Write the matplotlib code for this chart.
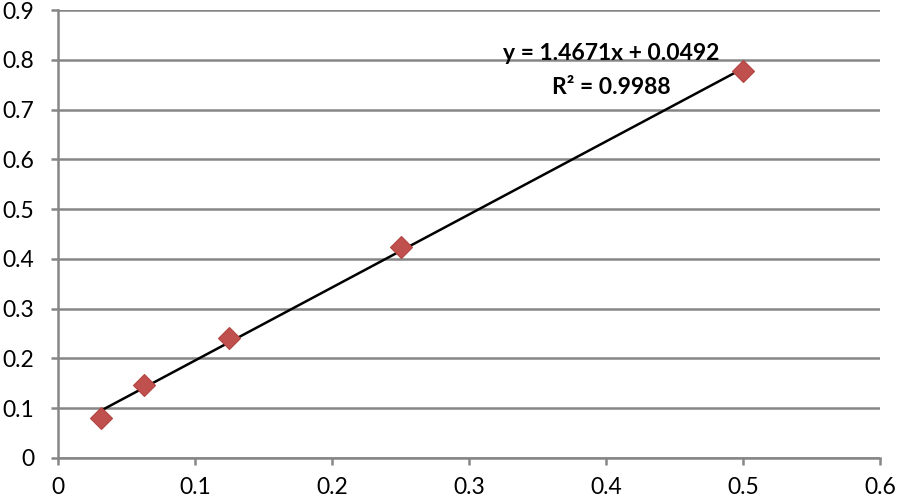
import numpy as np
import matplotlib.pyplot as plt

# données
concentration = [0.03125, 0.0625, 0.125, 0.25, 0.5]
absorbance = [0.080, 0.147, 0.241, 0.424, 0.777]

pente = 1.4671
ordonnee = 0.0492
equation = "y = 1.4671x + 0.0492"
r2 = "R² = 0.9988"

x_ticks = [0, 0.1, 0.2, 0.3, 0.4, 0.5, 0.6]
y_ticks = [0, 0.1, 0.2, 0.3, 0.4, 0.5, 0.6, 0.7, 0.8, 0.9]

plt.rcParams['font.family'] = ['Lato', 'DejaVu Sans']
gris = '#868686'

fig = plt.figure(figsize=(9.04, 5.04), dpi=100)
ax = fig.add_axes([0.0642, 0.0913, 0.9093, 0.8887])

ax.set_xlim(0, 0.6)
ax.set_ylim(0, 0.9)
ax.set_xticks(x_ticks)
ax.set_yticks(y_ticks)
ax.set_xticklabels([f"{v:g}" for v in x_ticks])
ax.set_yticklabels([f"{v:g}" for v in y_ticks])

ax.grid(axis='y', color=gris, linewidth=1.8)
ax.set_axisbelow(True)
for cote in ['top', 'right']:
    ax.spines[cote].set_visible(False)
for cote in ['left', 'bottom']:
    ax.spines[cote].set_color(gris)
    ax.spines[cote].set_linewidth(1.8)
ax.tick_params(axis='both', direction='out', length=5, width=1.8, color=gris,
               labelsize=16.5, labelcolor='black')
ax.tick_params(axis='y', pad=12)
ax.tick_params(axis='x', pad=9)

# droite de tendance
xt = np.array([concentration[0], concentration[-1]])
ax.plot(xt, pente * xt + ordonnee, color='black', linewidth=1.8, zorder=3)

ax.plot(concentration, absorbance, linestyle='none', marker='D', markersize=11.5,
        markerfacecolor='#C0504D', markeredgecolor='#B04542', markeredgewidth=0.8,
        zorder=4, clip_on=False)

ax.text(0.4035, 0.812, equation, ha='center', va='center', fontsize=16.5, fontweight='bold')
ax.text(0.4035, 0.744, r2, ha='center', va='center', fontsize=16.5, fontweight='bold')

plt.savefig('out.png', dpi=100)
plt.close()
